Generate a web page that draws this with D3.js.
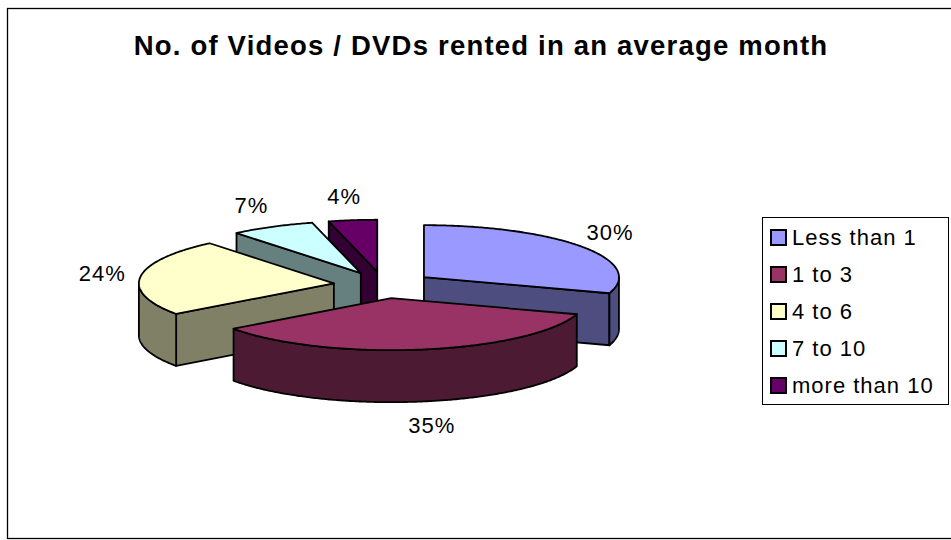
<!DOCTYPE html>
<html>
<head>
<meta charset="utf-8">
<script src="https://cdn.jsdelivr.net/npm/d3@7/dist/d3.min.js"></script>
<style>
  html, body { margin: 0; padding: 0; background: #fff; }
  svg { display: block; }
  text { font-family: "Liberation Sans", Arial, sans-serif; fill: #000; }
</style>
</head>
<body>
<svg id="chart" width="951" height="540"></svg>
<script>
// Rentals per month, share of respondents (%)
const categories = ["Less than 1", "1 to 3", "4 to 6", "7 to 10", "more than 10"];
const values = [30, 35, 24, 7, 4];
const topColors = ["#9999FF", "#993366", "#FFFFCC", "#CCFFFF", "#660066"];
const sideColors = ["#4D4D80", "#4D1A33", "#808066", "#668080", "#330033"];
const title = "No. of Videos / DVDs rented in an average month";

const svg = d3.select("#chart");

// outer frame
svg.append("rect")
  .attr("x", 7.5).attr("y", 8.5)
  .attr("width", 950).attr("height", 530)
  .attr("fill", "#fff").attr("stroke", "#000").attr("stroke-width", 1.3);

svg.append("text")
  .attr("x", 481).attr("y", 55)
  .attr("text-anchor", "middle")
  .attr("font-size", 27.5).attr("font-weight", "bold")
  .attr("letter-spacing", 1.2)
  .text(title);

// 3D pie geometry (ellipse projection of a tilted disc)
const cx = 383.5, cy = 285; // centre of the top face
const rx = 195, ry = 52;    // ellipse radii of the top face
const depth = 52;           // thickness of the disc
const explode = 50;         // slice pull-out distance (x units)
const k = ry / rx;

const pie = d3.pie().sort(null).value(d => d).startAngle(0).endAngle(2 * Math.PI);
const arcs = pie(values).map((a, i) => {
  const mid = (a.startAngle + a.endAngle) / 2;
  return {
    i, a0: a.startAngle, a1: a.endAngle, mid, value: a.data,
    ox: explode * Math.sin(mid),
    oy: -explode * k * Math.cos(mid)
  };
});

const pt = (s, t, r, z) => [
  cx + s.ox + r * rx * Math.sin(t),
  cy + s.oy - r * ry * Math.cos(t) + z
];
const arcPts = (s, t0, t1, z) => {
  const n = Math.max(2, Math.ceil(Math.abs(t1 - t0) / 0.01));
  return d3.range(n + 1).map(j => pt(s, t0 + (t1 - t0) * j / n, 1, z));
};
const line = d3.line();

// back slices first, front slices last
const order = arcs.slice().sort((p, q) => Math.cos(q.mid) - Math.cos(p.mid));

const g = svg.append("g")
  .attr("stroke", "#000").attr("stroke-width", 1.8).attr("stroke-linejoin", "round");

order.forEach(s => {
  const sg = g.append("g");
  // radial cut faces that turn toward the viewer
  [[s.a0, s.a0 - Math.PI / 2], [s.a1, s.a1 + Math.PI / 2]].forEach(([t, n]) => {
    if (Math.cos(n) < -1e-6) {
      const c0 = pt(s, t, 0, 0), r0 = pt(s, t, 1, 0);
      const r1 = pt(s, t, 1, depth), c1 = pt(s, t, 0, depth);
      sg.append("path")
        .attr("d", line([c0, r0, r1, c1]) + "Z")
        .attr("fill", sideColors[s.i]);
    }
  });
  // outer wall on the front half of the rim
  const w0 = Math.max(s.a0, Math.PI / 2), w1 = Math.min(s.a1, 3 * Math.PI / 2);
  if (w1 > w0) {
    const topEdge = arcPts(s, w0, w1, 0);
    const botEdge = arcPts(s, w1, w0, depth);
    sg.append("path")
      .attr("d", line(topEdge.concat(botEdge)) + "Z")
      .attr("fill", sideColors[s.i]);
  }
  // top face
  const topPts = [pt(s, 0, 0, 0)].concat(arcPts(s, s.a0, s.a1, 0));
  sg.append("path")
    .attr("d", line(topPts) + "Z")
    .attr("fill", topColors[s.i]);
});

// percentage labels outside the rim
const total = d3.sum(values);
arcs.forEach(s => {
  const front = Math.cos(s.mid) < 0;
  const [x, y] = pt(s, s.mid, 1, front ? depth : 0);
  svg.append("text")
    .attr("x", x + 38 * Math.sin(s.mid) - 4 * Math.cos(s.mid))
    .attr("y", y - 24 * Math.cos(s.mid))
    .attr("text-anchor", "middle")
    .attr("dominant-baseline", "central")
    .attr("font-size", 22)
    .attr("letter-spacing", 1)
    .text(Math.round(s.value / total * 100) + "%");
});

// legend
const lg = svg.append("g");
lg.append("rect")
  .attr("x", 762.5).attr("y", 217.5).attr("width", 186).attr("height", 187)
  .attr("fill", "#fff").attr("stroke", "#000").attr("stroke-width", 1);
const rowY = d3.scalePoint().domain(categories).range([237.5, 385.5]);
categories.forEach((c, i) => {
  const y = rowY(c);
  lg.append("rect")
    .attr("x", 771).attr("y", y - 7.5).attr("width", 15).attr("height", 15)
    .attr("fill", topColors[i]).attr("stroke", "#000").attr("stroke-width", 2);
  lg.append("text")
    .attr("x", 792).attr("y", y)
    .attr("dominant-baseline", "central")
    .attr("font-size", 22)
    .attr("letter-spacing", 1)
    .text(c);
});
</script>
</body>
</html>
